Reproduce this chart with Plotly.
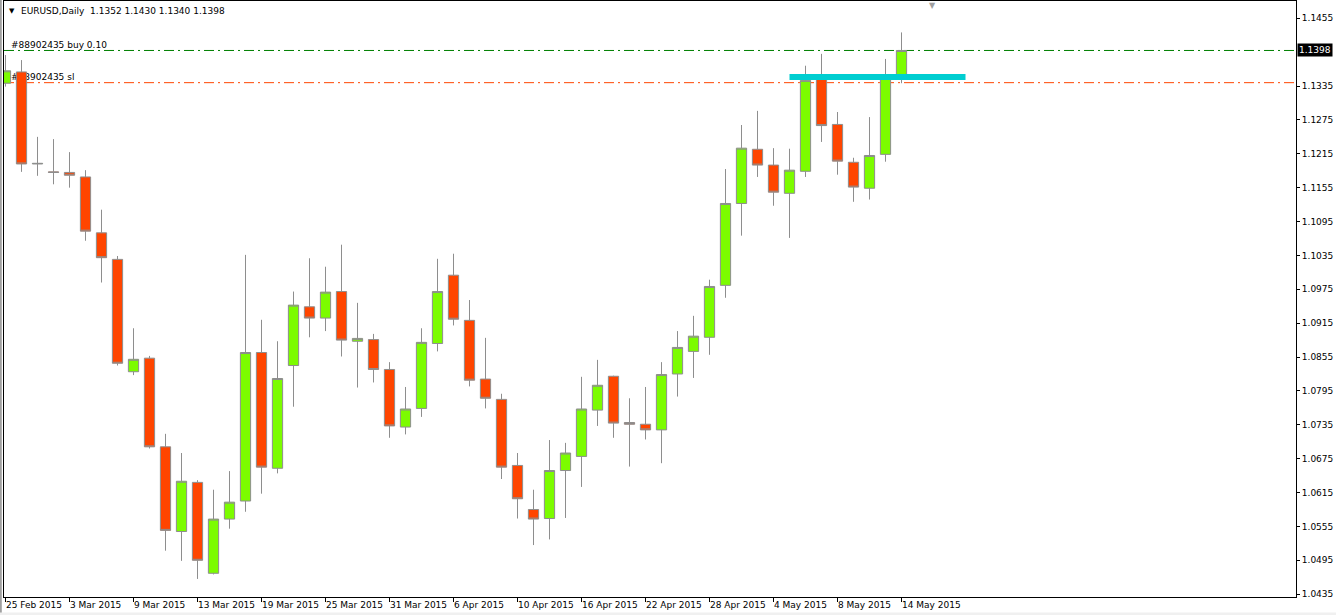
import plotly.graph_objects as go

# ---------------- data ----------------
dates = ["25 Feb 2015", "26 Feb 2015", "27 Feb 2015", "2 Mar 2015", "3 Mar 2015", "4 Mar 2015",
         "5 Mar 2015", "6 Mar 2015", "9 Mar 2015", "10 Mar 2015", "11 Mar 2015", "12 Mar 2015",
         "13 Mar 2015", "16 Mar 2015", "17 Mar 2015", "18 Mar 2015", "19 Mar 2015", "20 Mar 2015",
         "23 Mar 2015", "24 Mar 2015", "25 Mar 2015", "26 Mar 2015", "27 Mar 2015", "30 Mar 2015",
         "31 Mar 2015", "1 Apr 2015", "2 Apr 2015", "3 Apr 2015", "6 Apr 2015", "7 Apr 2015",
         "8 Apr 2015", "9 Apr 2015", "10 Apr 2015", "13 Apr 2015", "14 Apr 2015", "15 Apr 2015",
         "16 Apr 2015", "17 Apr 2015", "20 Apr 2015", "21 Apr 2015", "22 Apr 2015", "23 Apr 2015",
         "24 Apr 2015", "27 Apr 2015", "28 Apr 2015", "29 Apr 2015", "30 Apr 2015", "1 May 2015",
         "4 May 2015", "5 May 2015", "6 May 2015", "7 May 2015", "8 May 2015", "11 May 2015",
         "12 May 2015", "13 May 2015", "14 May 2015"]

opens = [1.1340, 1.1360, 1.1197, 1.1183, 1.1182, 1.1174, 1.1075, 1.1028, 1.0829, 1.0853,
         1.0696, 1.0546, 1.0633, 1.0472, 1.0568, 1.0600, 1.0863, 1.0658, 1.0840, 1.0944,
         1.0924, 1.0971, 1.0883, 1.0886, 1.0833, 1.0731, 1.0764, 1.0879, 1.1000, 1.0920,
         1.0816, 1.0780, 1.0663, 1.0585, 1.0569, 1.0654, 1.0679, 1.0761, 1.0821, 1.0739,
         1.0736, 1.0726, 1.0825, 1.0865, 1.0890, 1.0982, 1.1127, 1.1223, 1.1195, 1.1145,
         1.1184, 1.1347, 1.1267, 1.1200, 1.1154, 1.1214, 1.1352]
highs = [1.1390, 1.1381, 1.1245, 1.1241, 1.1218, 1.1186, 1.1116, 1.1034, 1.0906, 1.0857,
         1.0719, 1.0685, 1.0637, 1.0620, 1.0653, 1.1036, 1.0921, 1.0883, 1.0971, 1.1030,
         1.1015, 1.1054, 1.0951, 1.0896, 1.0846, 1.0802, 1.0906, 1.1029, 1.1038, 1.0956,
         1.0889, 1.0790, 1.0685, 1.0620, 1.0708, 1.0703, 1.0820, 1.0850, 1.0822, 1.0782,
         1.0802, 1.0846, 1.0901, 1.0928, 1.0992, 1.1188, 1.1266, 1.1291, 1.1225, 1.1224,
         1.1371, 1.1392, 1.1289, 1.1208, 1.1280, 1.1383, 1.1430]
lows = [1.1334, 1.1183, 1.1176, 1.1161, 1.1155, 1.1061, 1.0987, 1.0840, 1.0823, 1.0693,
        1.0512, 1.0494, 1.0462, 1.0470, 1.0551, 1.0581, 1.0613, 1.0649, 1.0767, 1.0890,
        1.0901, 1.0856, 1.0801, 1.0810, 1.0712, 1.0718, 1.0749, 1.0865, 1.0911, 1.0803,
        1.0764, 1.0639, 1.0569, 1.0522, 1.0532, 1.0570, 1.0625, 1.0733, 1.0712, 1.0661,
        1.0709, 1.0667, 1.0785, 1.0818, 1.0859, 1.0960, 1.1070, 1.1174, 1.1123, 1.1066,
        1.1174, 1.1236, 1.1178, 1.1130, 1.1134, 1.1201, 1.1340]
closes = [1.1362, 1.1197, 1.1198, 1.1182, 1.1177, 1.1078, 1.1031, 1.0844, 1.0851, 1.0696,
          1.0548, 1.0635, 1.0495, 1.0568, 1.0598, 1.0863, 1.0660, 1.0817, 1.0947, 1.0924,
          1.0970, 1.0885, 1.0888, 1.0833, 1.0733, 1.0763, 1.0881, 1.0971, 1.0922, 1.0814,
          1.0782, 1.0660, 1.0604, 1.0568, 1.0654, 1.0685, 1.0763, 1.0805, 1.0738, 1.0736,
          1.0726, 1.0824, 1.0872, 1.0892, 1.0980, 1.1127, 1.1225, 1.1195, 1.1147, 1.1186,
          1.1345, 1.1265, 1.1202, 1.1156, 1.1212, 1.1354, 1.1398]

price_ticks = [1.0435, 1.0495, 1.0555, 1.0615, 1.0675, 1.0735, 1.0795, 1.0855, 1.0915,
               1.0975, 1.1035, 1.1095, 1.1155, 1.1215, 1.1275, 1.1335, 1.1455]
date_label_step = 4

buy_price = 1.1398
sl_price = 1.1341
bid_price = 1.1398
level_price = 1.1351
level_start_idx = 49
level_end_idx = 60

header_text = "EURUSD,Daily\u00a0\u00a01.1352 1.1430 1.1340 1.1398"
buy_label = "#88902435 buy 0.10"
sl_label = "#88902435 sl"
bid_label = "1.1398"

# ---------------- layout constants ----------------
W, H = 1336, 615
ML, MR, MT, MB = 4, 40, 1, 18
PW, PH = W - ML - MR, H - MT - MB
FONT = "DejaVu Sans"


def px_x(px):
    return (px - ML) / PW


def px_y(py):
    return (H - MB - py) / PH


idx = list(range(len(dates)))

fig = go.Figure()
fig.add_trace(go.Candlestick(
    x=idx, open=opens, high=highs, low=lows, close=closes,
    increasing=dict(fillcolor="#7CFC00", line=dict(color="#8E8E8E", width=1)),
    decreasing=dict(fillcolor="#FF4500", line=dict(color="#8E8E8E", width=1)),
    whiskerwidth=0, showlegend=False, hoverinfo="skip",
))

shapes = [
    # window strips
    dict(type="rect", xref="paper", yref="paper", x0=px_x(0), x1=px_x(1.8), y0=px_y(615), y1=px_y(0),
         fillcolor="#A0A0A0", line=dict(width=0), layer="above"),
    dict(type="rect", xref="paper", yref="paper", x0=px_x(0), x1=px_x(1336), y0=px_y(615), y1=px_y(612.5),
         fillcolor="#F0F0F0", line=dict(width=0), layer="above"),
    # order lines
    dict(type="line", xref="paper", yref="y", x0=0, x1=1, y0=buy_price, y1=buy_price,
         line=dict(color="#008000", width=1, dash="10px,4px,2px,4px"), layer="below"),
    dict(type="line", xref="paper", yref="y", x0=0, x1=1, y0=sl_price, y1=sl_price,
         line=dict(color="#FF4500", width=1, dash="10px,4px,2px,4px"), layer="below"),
    # order labels (below candles)
    dict(type="rect", xref="paper", yref="y", x0=px_x(5), x1=px_x(300), y0=buy_price, y1=buy_price + 0.0022,
         line=dict(width=0), fillcolor="rgba(0,0,0,0)", layer="below",
         label=dict(text=buy_label, textposition="middle left", padding=3,
                    font=dict(family=FONT, size=9, color="#000000"))),
    dict(type="rect", xref="paper", yref="y", x0=px_x(5), x1=px_x(300), y0=sl_price, y1=sl_price + 0.0022,
         line=dict(width=0), fillcolor="rgba(0,0,0,0)", layer="below",
         label=dict(text=sl_label, textposition="middle left", padding=3,
                    font=dict(family=FONT, size=9, color="#000000"))),
    # cyan level
    dict(type="line", xref="x", yref="y", x0=level_start_idx, x1=level_end_idx,
         y0=level_price, y1=level_price, line=dict(color="#00CED1", width=6), layer="above"),
]

annotations = []
for i in range(0, len(dates), date_label_step):
    annotations.append(dict(x=i, y=0, xref="x", yref="paper", text=dates[i], showarrow=False,
                            xanchor="left", yanchor="top", xshift=-2, yshift=-1,
                            font=dict(family=FONT, size=9, color="#000000")))
annotations += [
    dict(x=px_x(11.5), y=px_y(10.5), xref="paper", yref="paper", text="\u25BC", showarrow=False,
         xanchor="center", yanchor="middle", font=dict(family=FONT, size=7, color="#000000")),
    dict(x=px_x(19), y=px_y(10.5), xref="paper", yref="paper", text=header_text, showarrow=False,
         xanchor="left", yanchor="middle", font=dict(family=FONT, size=9, color="#000000")),
    dict(x=px_x(932.5), y=px_y(5.5), xref="paper", yref="paper", text="\u25BC", showarrow=False,
         xanchor="center", yanchor="middle", font=dict(family=FONT, size=8, color="#A0A0A0")),
    dict(x=1, y=bid_price, xref="paper", yref="y", text=bid_label, showarrow=False,
         xanchor="left", yanchor="middle", xshift=1, bgcolor="#000000", borderpad=1,
         font=dict(family=FONT, size=9, color="#FFFFFF")),
]

fig.update_layout(
    width=W, height=H,
    margin=dict(l=ML, r=MR, t=MT, b=MB, pad=0),
    paper_bgcolor="#FFFFFF", plot_bgcolor="#FFFFFF",
    boxgap=0.36, boxgroupgap=0,
    shapes=shapes, annotations=annotations,
    showlegend=False,
    xaxis=dict(range=[-0.09375, 80.656], tickvals=list(range(0, len(dates), date_label_step)),
               showticklabels=False, ticks="outside", ticklen=4, tickcolor="#000000",
               showgrid=False, zeroline=False, showline=True, linecolor="#000000", linewidth=1,
               mirror=True, rangeslider=dict(visible=False), fixedrange=True),
    yaxis=dict(range=[1.04300, 1.148564], side="right", tickvals=price_ticks,
               ticktext=["%.4f" % v for v in price_ticks],
               ticks="outside", ticklen=3, tickcolor="#000000",
               tickfont=dict(family=FONT, size=9, color="#000000"),
               showgrid=False, zeroline=False, showline=True, linecolor="#000000", linewidth=1,
               mirror=True, fixedrange=True),
)

fig.write_html("out.html")
